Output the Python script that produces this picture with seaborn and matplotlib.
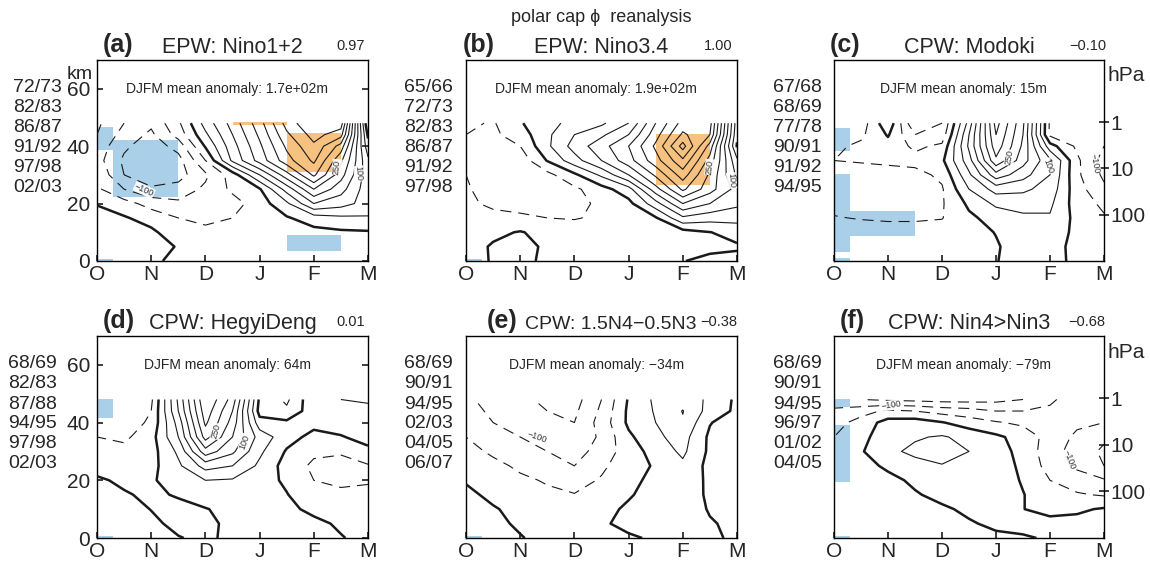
import numpy as np
import matplotlib
matplotlib.use("Agg")
import matplotlib.pyplot as plt
from matplotlib.patches import Rectangle
import seaborn as sns

sns.set_theme(style="white")
plt.rcParams["font.family"] = ["Liberation Sans", "DejaVu Sans"]
plt.rcParams["lines.scale_dashes"] = False
plt.rcParams["lines.dashed_pattern"] = [8.0, 5.0]
plt.rcParams["axes.edgecolor"] = "black"
plt.rcParams["axes.linewidth"] = 1.0

# ---------------- data ----------------
months = ["O", "N", "D", "J", "F", "M"]
x_grid = [0.0, 0.5, 1.0, 1.5, 2.0, 2.5, 3.0, 3.5, 4.0, 4.5, 5.0]          # month index
z_levels = [0, 5, 10, 15, 20, 25, 30, 35, 40, 44, 48]                     # km
hpa_ticks = [1, 10, 100]
scale_height = 7.0

panel_letters = ["(a)", "(b)", "(c)", "(d)", "(e)", "(f)"]
titles = ["EPW: Nino1+2", "EPW: Nino3.4", "CPW: Modoki",
          "CPW: HegyiDeng", "CPW: 1.5N4\u22120.5N3", "CPW: Nin4>Nin3"]
correlations = ["0.97", "1.00", "\u22120.10", "0.01", "\u22120.38", "\u22120.68"]
anomalies = ["1.7e+02m", "1.9e+02m", "15m", "64m", "\u221234m", "\u221279m"]

years_a = ["72/73", "82/83", "86/87", "91/92", "97/98", "02/03"]
years_b = ["65/66", "72/73", "82/83", "86/87", "91/92", "97/98"]
years_c = ["67/68", "68/69", "77/78", "90/91", "91/92", "94/95"]
years_d = ["68/69", "82/83", "87/88", "94/95", "97/98", "02/03"]
years_e = ["68/69", "90/91", "94/95", "02/03", "04/05", "06/07"]
years_f = ["68/69", "90/91", "94/95", "96/97", "01/02", "04/05"]

# geopotential height anomaly (m), rows = z_levels (bottom->top), cols = x_grid
field_a = [
    [30, 30, 15, -20, -20, -20, -20, -20, -20, -20, -20],
    [35, 35, 30, -5, -30, -35, -30, -30, -30, -25, -20],
    [40, 30, 10, -30, -45, -40, -40, -30, -15, -8, -5],
    [20, 5, -20, -50, -55, -50, -40, -5, 25, 40, 45],
    [-3, -30, -70, -90, -90, -70, -25, 40, 150, 120, 80],
    [-40, -100, -140, -130, -90, -40, -5, 120, 250, 170, 70],
    [-60, -150, -190, -170, -110, -25, 100, 230, 360, 220, 70],
    [-80, -160, -200, -170, -50, 110, 220, 330, 410, 260, 60],
    [-70, -140, -180, -130, 5, 130, 240, 360, 440, 330, 20],
    [-50, -120, -160, -80, 40, 150, 260, 390, 470, 420, -10],
    [-40, -100, -140, -60, 70, 170, 280, 420, 500, 480, -50],
]
field_b = [
    [-15, 3, 20, -15, -20, -20, -20, -15, -1, 8, 12],
    [-20, 5, 20, -10, -25, -30, -30, -20, -10, -8, -5],
    [-25, -10, 3, -15, -35, -35, -30, -20, -20, -1, 15],
    [-30, -35, -40, -50, -52, -45, -35, -5, 90, 70, 70],
    [-40, -60, -70, -70, -65, -40, -15, 80, 200, 150, 110],
    [-45, -70, -85, -75, -60, -20, 30, 180, 310, 220, 130],
    [-50, -80, -95, -65, -10, 60, 150, 260, 375, 240, 90],
    [-55, -80, -80, 3, 80, 150, 230, 330, 440, 280, 60],
    [-50, -70, -50, 40, 120, 180, 250, 360, 520, 330, -5],
    [-50, -60, -25, 40, 100, 140, 200, 330, 460, 400, 10],
    [-40, -55, -5, 40, 60, 90, 150, 300, 420, 420, 20],
]
field_c = [
    [-20, -20, -20, -20, -20, -15, -2, 20, 15, -10, -15],
    [-25, -25, -25, -25, -25, -15, -5, 25, 20, -15, -20],
    [-35, -35, -35, -35, -30, -20, 2, 30, 35, -15, -30],
    [-48, -52, -55, -55, -52, -10, 20, 40, 45, -15, -45],
    [-60, -70, -75, -70, -55, 10, 60, 70, 60, -25, -60],
    [-70, -85, -90, -85, -55, 50, 120, 110, 80, -30, -90],
    [-70, -75, -70, -65, -40, 90, 230, 170, 100, -40, -110],
    [-50, -45, -40, -35, -10, 130, 340, 220, 110, -40, -120],
    [-60, -40, -20, -60, -40, 160, 380, 240, 20, -60, -100],
    [-70, -60, 5, -100, -80, 150, 400, 250, -60, -70, -70],
    [-60, -80, 40, -150, -100, 120, 420, 260, -60, -80, -60],
]
field_d = [
    [10, 10, 10, 2, -8, 10, 15, 10, 5, 2, -10],
    [15, 15, 8, -10, -10, 10, 15, 12, 8, -5, -15],
    [20, 15, -1, -15, -2, 12, 15, 8, -8, -15, -20],
    [15, 5, -10, 5, 20, 25, 20, 2, -30, -42, -45],
    [8, -10, -5, 20, 50, 45, 20, -8, -50, -58, -52],
    [-20, -25, -15, 40, 120, 100, 40, -20, -60, -65, -55],
    [-30, -35, -20, 60, 230, 160, 60, -5, -40, -45, -10],
    [-50, -60, -20, 100, 320, 200, 80, 20, -15, -3, 15],
    [-60, -80, -40, 120, 360, 230, 20, 10, 15, 20, 30],
    [-80, -90, -50, 150, 380, 250, -20, -40, 30, 40, 40],
    [-90, -100, -60, 160, 400, 280, -10, -60, 40, 50, 55],
]
field_e = [
    [15, 10, 2, -10, -15, -10, -5, 5, 10, 5, -5],
    [15, 8, -5, -15, -20, -5, 10, 15, 15, 3, -8],
    [15, 3, -10, -25, -30, -15, 8, 20, 20, -3, -15],
    [8, -8, -25, -40, -48, -30, -5, 20, 25, -8, -20],
    [-3, -20, -40, -55, -70, -45, -15, 15, 30, -10, -25],
    [-15, -35, -60, -80, -100, -60, -20, 5, 40, -15, -45],
    [-30, -60, -80, -100, -120, -80, -25, 20, 60, -10, -50],
    [-50, -80, -100, -120, -140, -90, -10, 40, 70, -10, -40],
    [-70, -100, -120, -140, -150, -80, 10, 50, 95, 3, -30],
    [-80, -110, -130, -150, -160, -90, 10, 55, 102, 30, -10],
    [-90, -120, -140, -160, -170, -100, 5, 60, 80, 40, -10],
]
field_f = [
    [-20, -20, -20, -20, -20, -15, -10, -5, 5, 10, 15],
    [-25, -25, -25, -20, -15, -5, 10, 15, 15, 15, 15],
    [-30, -30, -25, -15, -8, 10, 20, 1, -15, -8, 5],
    [-35, -35, -25, -5, 15, 25, 25, 2, -30, -45, -55],
    [-40, -35, -15, 10, 30, 35, 30, -5, -50, -75, -95],
    [-40, -20, 10, 35, 48, 40, 25, -10, -70, -110, -150],
    [-40, -5, 40, 60, 65, 50, 20, -15, -80, -120, -160],
    [-50, -15, 30, 45, 55, 35, 10, -20, -70, -110, -140],
    [-70, -30, 20, 25, 3, -25, -45, -60, -70, -90, -100],
    [-90, -70, -40, -50, -70, -80, -100, -100, -90, -80, -90],
    [-130, -150, -160, -165, -170, -170, -165, -150, -110, -70, -100],
]

# significance boxes: (colour key, month0, month1, km0, km1)
boxes_a = [("neg", 0.0, 0.3, 38.5, 46.5), ("neg", 0.3, 1.5, 22.3, 42.3), ("neg", 0.0, 0.3, 0.0, 0.6),
           ("neg", 3.5, 4.5, 3.6, 9.0), ("pos", 2.5, 3.5, 47.2, 48.4), ("pos", 3.5, 4.5, 31.0, 44.5)]
boxes_b = [("neg", 0.0, 0.3, 0.0, 0.6), ("pos", 3.5, 4.5, 26.6, 44.3)]
boxes_c = [("neg", 0.0, 0.3, 38.3, 46.3), ("neg", 0.0, 0.3, 3.2, 30.2), ("neg", 0.3, 1.5, 8.7, 17.4),
           ("neg", 0.0, 0.3, 0.0, 0.9)]
boxes_d = [("neg", 0.0, 0.3, 41.6, 48.3), ("neg", 0.0, 0.3, 0.0, 0.6)]
boxes_e = [("neg", 0.0, 0.3, 0.0, 0.6)]
boxes_f = [("neg", 0.0, 0.3, 45.4, 48.3), ("neg", 0.0, 0.3, 19.4, 39.0), ("neg", 0.0, 0.3, 0.0, 0.6)]

# contour labels: (level, month, km, rotation)
labels_a = [(250, 4.43, 32.7, 85), (100, 4.83, 30.4, -85), (-100, 0.87, 24.7, -25)]
labels_b = [(250, 4.5, 32.7, 85), (100, 4.9, 28.0, -85)]
labels_c = [(250, 3.25, 36.0, 80), (100, 3.96, 33.0, -70), (-100, 4.83, 34.0, -80)]
labels_d = [(250, 2.2, 37.0, 75), (100, 2.73, 33.3, 70)]
labels_e = [(-100, 1.3, 35.0, -20)]
labels_f = [(-100, 1.05, 46.0, 8), (-100, 4.36, 27.0, -70)]

fields = [field_a, field_b, field_c, field_d, field_e, field_f]
years = [years_a, years_b, years_c, years_d, years_e, years_f]
boxes = [boxes_a, boxes_b, boxes_c, boxes_d, boxes_e, boxes_f]
label_pts = [labels_a, labels_b, labels_c, labels_d, labels_e, labels_f]

box_colors = {"neg": "#a9d0e8", "pos": "#f7c27f"}

# ---------------- layout ----------------
W, H = 1150, 571
fig = plt.figure(figsize=(W / 100, H / 100), dpi=100)
lefts = [97, 466, 834]
widths = [271, 271, 270]
row_top = [(60, 261), (336, 538)]

letter_x = [0.022, -0.011, -0.015, 0.022, 0.077, 0.022]
corr_x = [0.989, 0.985, 1.007, 0.989, 1.0, 1.004]
year_x = [-0.129, -0.048, -0.044, -0.148, -0.048, -0.044]
title_x = [0.5, 0.5, 0.5, 0.5, 0.535, 0.5]
title_size = [15.5, 15.5, 15.5, 15.5, 14, 15.5]

neg_levels = np.arange(-500, 0, 50)
pos_levels = np.arange(50, 700, 50)

X, Z = np.meshgrid(x_grid, z_levels)


def fmt(v):
    return f"{v:.0f}".replace("-", "\u2212")


for i in range(6):
    r, c = divmod(i, 3)
    top, bot = row_top[r]
    ax = fig.add_axes([lefts[c] / W, 1 - bot / H, widths[c] / W, (bot - top) / H])
    ax.set_facecolor("white")
    F = np.array(fields[i], dtype=float)

    for key, x0, x1, z0, z1 in boxes[i]:
        ax.add_patch(Rectangle((x0, z0), x1 - x0, z1 - z0, facecolor=box_colors[key],
                               edgecolor="none", zorder=1))

    ax.contour(X, Z, F, levels=neg_levels, colors="k", linewidths=0.8,
               linestyles="dashed", zorder=3)
    ax.contour(X, Z, F, levels=pos_levels, colors="k", linewidths=0.8,
               linestyles="solid", zorder=3)
    ax.contour(X, Z, F, levels=[0], colors="k", linewidths=1.8, linestyles="solid", zorder=3)

    for lev, lx, lz, rot in label_pts[i]:
        ax.text(lx, lz, fmt(lev), rotation=rot, rotation_mode="anchor" if False else "default",
                ha="center", va="center", fontsize=6.5, color="#333333", zorder=4,
                bbox=dict(facecolor="white", edgecolor="none", pad=0.4, alpha=0.9))

    ax.set_xlim(0, 5)
    ax.set_ylim(0, 70)
    ax.set_xticks(range(len(months)))
    ax.set_xticklabels(months)
    ax.tick_params(axis="x", direction="in", length=4, labelsize=15, pad=3, bottom=True, top=False)
    for s in ax.spines.values():
        s.set_color("black")
        s.set_linewidth(1.0)

    if c == 0:
        ax.set_yticks([0, 20, 40, 60])
        ax.tick_params(axis="y", direction="in", length=4, labelsize=15, pad=5,
                       left=True, right=True, labelleft=True)
    elif c == 1:
        ax.set_yticks([])
    else:
        hz = [scale_height * np.log(1000.0 / p) for p in hpa_ticks]
        ax.set_yticks(hz)
        ax.set_yticklabels([str(p) for p in hpa_ticks])
        ax.tick_params(axis="y", direction="inout", length=7, labelsize=15, pad=1,
                       left=False, right=True, labelleft=False, labelright=True)
        ax.text(1.012, 0.925 if r == 0 else 0.92, "hPa", transform=ax.transAxes,
                ha="left", va="center", fontsize=15)

    if i == 0:
        ax.text(-0.063, 0.93, "km", transform=ax.transAxes, ha="center", va="center", fontsize=14)

    ax.text(0.48, 60, "DJFM mean anomaly: " + anomalies[i], transform=ax.get_yaxis_transform(),
            ha="center", va="center", fontsize=10)
    ax.text(title_x[i], 1.036, titles[i], transform=ax.transAxes, ha="center", va="baseline",
            fontsize=title_size[i])
    ax.text(letter_x[i], 1.04, panel_letters[i], transform=ax.transAxes, ha="left",
            va="baseline", fontsize=18, fontweight="bold")
    ax.text(corr_x[i], 1.048, correlations[i], transform=ax.transAxes, ha="right",
            va="baseline", fontsize=10.5)

    y0 = (bot - (87 if r == 0 else 364)) / (bot - top)
    step = 20.0 / (bot - top)
    for k, yr in enumerate(years[i]):
        ax.text(year_x[i], y0 - k * step, yr, transform=ax.transAxes, ha="right",
                va="center", fontsize=14, clip_on=False)

fig.text(601 / W, 1 - 17 / H, "polar cap \u03d5  reanalysis", ha="center", va="center", fontsize=13)

fig.savefig("out.png", dpi=100)
